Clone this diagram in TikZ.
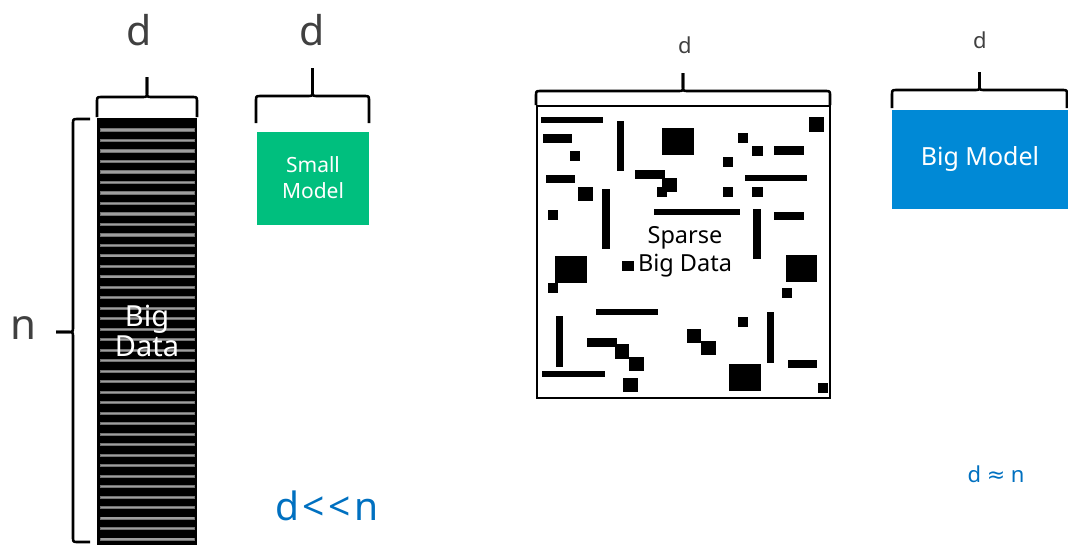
\documentclass[tikz,border=0pt]{standalone}
\usepackage{fontspec}
\setmainfont{Noto Sans}
\newfontfamily\symfont{DejaVu Sans}
\definecolor{smallgreen}{HTML}{00BF7E}
\definecolor{bigblue}{HTML}{0089D6}
\definecolor{labelgray}{HTML}{404040}
\definecolor{noteblue}{HTML}{0070C0}
\newcommand{\fsz}[2]{\fontsize{#1}{#2}\selectfont}
% horizontal curly brace: x1, x2, bar y, end y, tip y
\newcommand{\hbrace}[5]{%
  \pgfmathsetmacro{\xm}{(#1+#2)/2}%
  \draw[bracestyle] (#1,#4) -- (#1,#3+5) .. controls (#1,#3) .. (#1+5,#3)
     -- (\xm-5,#3) .. controls (\xm,#3) .. (\xm,#3-5) -- (\xm,#5);
  \draw[bracestyle] (#2,#4) -- (#2,#3+5) .. controls (#2,#3) .. (#2-5,#3)
     -- (\xm+5,#3) .. controls (\xm,#3) .. (\xm,#3-5) -- (\xm,#5);
}
\tikzset{
  bracestyle/.style={draw=black, line width=2.6pt, line join=round},
  dimlabel/.style={text=labelgray, inner sep=0pt},
  modelbox/.style={text=white, align=center, inner sep=0pt},
  stripe/.style={draw=black!55, line width=3.2pt},
  stripehi/.style={draw=black!38, line width=1.3pt},
  block/.style={fill=black},
}
\begin{document}
\begin{tikzpicture}[x=1pt,y=-1pt]
\useasboundingbox (0,0) rectangle (1068,544);

% ---- dense data matrix ----
\fill[black] (97,118) rectangle (197,546);
\foreach \i in {0,...,39} {
  \draw[stripe] (100,{130+10.49*\i}) -- (195,{130+10.49*\i});
  \draw[stripehi] (101,{130+10.49*\i}) -- (194,{130+10.49*\i});
}
\node[modelbox, font=\fsz{29}{30}] (bigdata) at (147,331) {Big\\Data};

% left brace over the rows
\draw[bracestyle] (90,119) -- (78,119) .. controls (73,119) .. (73,124)
   -- (73,327) .. controls (73,332) .. (68,332) -- (56,332);
\draw[bracestyle] (90,542) -- (78,542) .. controls (73,542) .. (73,537)
   -- (73,337) .. controls (73,332) .. (68,332) -- (56,332);
\node[dimlabel, font=\fsz{42}{44}] (nlab) at (23,328) {n};

% brace over the columns
\hbrace{97}{197}{97}{117}{77}
\node[dimlabel, font=\fsz{41}{44}] (d1) at (139,30) {d};

% ---- small model ----
\node[modelbox, fill=smallgreen, minimum width=112pt, minimum height=93pt,
      font=\fsz{21}{26}] (small) at (313,178) {Small\\Model};
\hbrace{256}{369}{96}{123}{68}
\node[dimlabel, font=\fsz{41}{44}] (d2) at (312,30) {d};

\node[text=noteblue, inner sep=0pt, font=\fsz{39}{40}] (ll) at (327,506)
  {d\kern3pt<\kern4pt<\kern3pt n};

% ---- sparse data matrix ----
\draw[line width=2.4pt] (537,106) rectangle (830,398);
\hbrace{536}{830}{91}{105}{73}
\node[dimlabel, font=\fsz{22}{24}] (d3) at (685,45) {d};

\foreach \a/\b/\c/\e in {
  541/117/603/123, 617/121/624/171, 662/128/694/155, 809/117/824/132,
  543/134/572/143, 570/151/580/161, 738/133/748/143, 752/146/763/156,
  774/146/804/155, 723/157/733/167, 546/175/575/183, 635/170/665/179,
  662/178/677/192, 657/187/667/197, 745/175/807/181, 578/187/593/201,
  602/189/610/249, 723/187/733/197, 752/187/763/197, 548/210/558/220,
  654/209/740/215, 753/209/761/259, 774/212/804/220,
  555/256/587/283, 548/283/558/293, 622/261/634/271, 786/255/817/282,
  782/288/792/298, 596/309/658/315, 556/316/563/367, 738/317/748/327,
  767/312/774/363, 587/338/617/347, 615/344/629/359, 629/357/644/371,
  687/329/701/343, 701/341/716/355, 542/371/605/377, 729/364/761/391,
  788/360/817/368, 623/378/638/392, 818/383/828/393}
  \fill[block] (\a,\b) rectangle (\c,\e);

\node[inner sep=0pt, align=center, font=\fsz{23.5}{28}] (sparse) at (685,252)
  {Sparse\\Big Data};

% ---- big model ----
\node[modelbox, fill=bigblue, minimum width=177pt, minimum height=99pt,
      font=\fsz{25}{28}] (big) at (980,159) {Big Model};
\hbrace{892}{1067}{90}{108}{72}
\node[dimlabel, font=\fsz{22}{24}] (d4) at (980,40) {d};

\node[text=noteblue, inner sep=0pt, font=\fsz{22}{24}] (approx) at (996,474)
  {d {\symfont ≈} n};
\end{tikzpicture}
\end{document}
